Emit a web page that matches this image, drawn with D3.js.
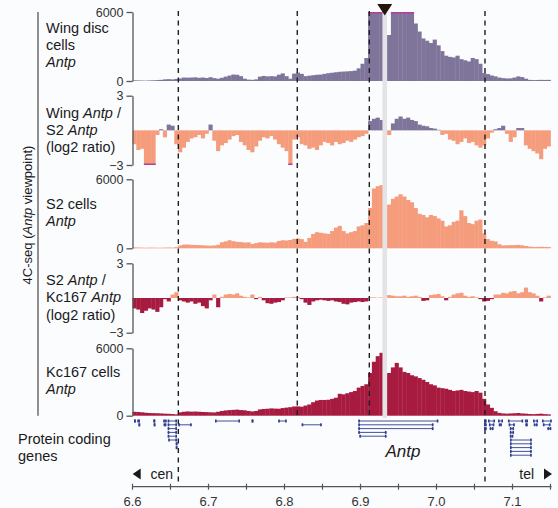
<!DOCTYPE html>
<html><head><meta charset="utf-8">
<script src="https://cdn.jsdelivr.net/npm/d3@7"></script>
<style>
html,body{margin:0;padding:0;background:#fbfcfe;}
text{font-family:"Liberation Sans",Arial,Helvetica,sans-serif;}
</style></head>
<body><svg id="c" width="558" height="508"></svg>
<script>
// ---- data (genomic position in Mb, bins of 5 kb starting at 6.600) ----
const binStart = 6.6, binSize = 0.005;
const wingDisc = [60,50,40,30,50,60,80,100,140,160,140,180,220,300,290,300,320,280,300,260,330,250,200,280,380,470,560,540,420,200,120,100,140,380,440,400,420,400,550,660,420,200,640,730,620,420,460,500,540,560,620,680,720,760,800,820,840,860,900,1100,1500,2000,6000,6000,6000,6000,0,4000,6000,6000,6000,6000,6000,6000,5000,4300,3700,3500,3300,3600,3100,2600,2200,2100,2050,2200,1900,1800,1700,2000,1900,1500,700,600,480,400,300,250,220,230,300,400,340,200,100,80,90,100,90,100];
const wingVsS2 = [-1.2,-1.7,-1.6,-3,-3,-3,-0.4,0.1,-0.6,0.5,0.4,-1.2,-1.9,-1.5,-1.0,-0.7,-0.6,-0.4,-0.7,-0.3,0.5,-0.9,-1.8,-1.3,-1.1,-0.8,-0.5,-0.4,-1.0,-1.3,-1.7,-1.9,-1.4,-0.9,-0.6,-0.7,-0.5,-0.8,-1.2,-1.5,-1.8,-3,-0.8,-0.6,-1.2,-1.3,-1.6,-1.5,-1.7,-1.3,-1.0,-1.1,-1.3,-1.0,-1.2,-1.1,-0.9,-1.0,-0.8,-0.6,-0.5,-0.3,0.8,1.0,1.1,0.9,0,-0.4,0.6,1.0,1.2,1.0,1.1,0.9,0.8,0.5,0.4,0.35,0.2,0.15,0.05,-0.4,-0.3,-0.8,-0.9,-1.2,-1.0,-0.7,-1.1,-1.0,-1.3,-1.5,-1.3,-0.7,-0.2,0.1,0.2,0.4,-0.3,-1.0,-0.6,0.2,0.2,-1.3,-1.6,-1.8,-2.0,-2.5,-1.6,-1.4];
const s2Cells = [80,70,60,50,60,60,50,50,60,70,60,100,250,320,330,300,290,280,260,240,230,250,300,520,600,700,620,560,540,500,520,380,450,520,500,480,520,500,640,700,680,720,820,860,800,560,900,1250,1400,1350,1300,1250,1500,1800,1950,1500,1300,1400,1500,1900,2000,2200,3500,5200,5400,5500,0,3800,4300,4500,4700,4500,4200,4000,3500,3000,2900,2700,2900,2800,2600,2400,1900,2000,2300,2400,3300,2800,2200,2100,2400,2500,1300,800,650,600,350,250,260,270,280,300,260,200,150,120,120,130,120,110];
const s2VsKc167 = [-0.9,-1.0,-1.3,-1.1,-0.9,-1.0,-1.2,-0.8,-0.1,-0.3,0.3,0.5,-0.2,-0.3,-0.4,-0.3,-0.5,-0.4,-0.7,-0.9,-0.2,0.3,-0.8,0.1,0.3,0.35,0.3,0.4,0.2,0.1,0.05,0.3,-0.1,0.1,-0.2,-0.45,-0.5,-0.4,-0.35,-0.2,0.05,0.05,0.1,0.1,-0.1,-0.4,-0.6,-0.3,-0.2,-0.15,-0.2,-0.25,-0.2,-0.3,-0.35,-0.5,-0.55,-0.4,-0.35,-0.3,-0.35,-0.3,0.05,0.05,0.03,0.05,0,0.25,0.2,0.15,0.15,0.2,0.1,0.15,0.2,0.1,-0.25,-0.2,0.25,0.3,0.35,0.15,-0.2,0.1,0.3,0.4,0.45,0.2,0.1,0.15,0.05,-0.1,-0.3,-0.25,-0.1,0.3,0.3,0.45,0.4,0.55,0.6,0.4,0.5,0.9,0.5,0.4,0.2,-0.3,0.05,0.2];
const kc167Cells = [350,330,300,260,240,230,220,200,180,170,150,120,300,350,380,360,370,350,330,320,300,290,350,420,470,500,520,540,500,480,420,380,420,560,600,620,650,630,620,680,720,760,820,830,800,900,1000,1200,1350,1400,1400,1420,1500,1600,1950,1900,2000,2100,2200,2500,2650,2800,3800,4800,5300,5600,0,3800,4300,4700,4300,3900,3800,3600,3500,3350,3200,3000,2800,2700,2500,2450,2400,2300,2200,2250,2300,2200,2150,2100,2200,2050,1500,1000,700,400,250,200,180,200,220,240,200,180,150,140,160,180,140,120];
const countTicks = [0, 6000];
const ratioTicks = [-3, 3];
const axisTicks = [6.6, 6.7, 6.8, 6.9, 7.0, 7.1];
const minorTicks = [6.65, 6.75, 6.85, 6.95, 7.05, 7.15];
const boundaries = [6.6603, 6.8168, 6.9116, 7.0638];
const outerBoundaries = [6.6603, 7.0638];
const viewpoint = 6.9319;
// genes: [start, end, row]
const genes = [
 [6.602,6.6042,0],[6.6063,6.6099,0],[6.608,6.6095,1],[6.6274,6.630,0],[6.628,6.6295,1],
 [6.6405,6.645,0],[6.641,6.6445,1],
 [6.6463,6.6585,0],[6.6463,6.6585,1],[6.6463,6.6585,2],[6.6463,6.6585,3],[6.6463,6.6585,4],[6.6470,6.6585,5],[6.657,6.6585,6],[6.657,6.6585,7],
 [6.6603,6.6779,1],[6.7086,6.7414,0],[6.7568,6.759,0],[6.7918,6.8029,0],[6.8226,6.849,1],
 [6.8971,7.0024,0],[6.8971,6.996,1],[6.8971,6.996,2],[6.8971,6.9342,3],[6.8985,6.9342,4],
 [7.0625,7.066,0],[7.0625,7.066,1],[7.0625,7.066,2],
 [7.0678,7.077,0],[7.0690,7.076,1],[7.0700,7.075,2],
 [7.081,7.0875,0],[7.082,7.086,1],
 [7.094,7.114,0],[7.095,7.103,1],[7.0965,7.102,2],[7.0965,7.102,3],[7.0965,7.101,4],
 [7.0967,7.1253,5],[7.0967,7.1253,6],[7.0967,7.1253,7],[7.0967,7.1253,8],[7.0967,7.1253,9],
 [7.1164,7.1204,0],[7.117,7.120,1],
 [7.127,7.1336,0],[7.128,7.133,1],
 [7.1388,7.1516,0],[7.140,7.150,1],[7.146,7.151,2]
];

// ---- layout ----
const svg = d3.select("#c");
const C = {purple:"#7f7499", salmon:"#f49c7c", crimson:"#a81b40", cap:"#b23fa0", gene:"#2e3d8e", axis:"#555"};
const x = d3.scaleLinear().domain([6.6, 7.15]).range([132.5, 550.5]);
const bins = wingDisc.map((_, i) => binStart + i * binSize);

const tracks = [
  {data: wingDisc, top: 12, bottom: 81, type: "count", pos: C.purple,
   label: [[["Wing disc",0]],[["cells",0]],[["Antp",1]]], base: 33},
  {data: wingVsS2, top: 95.7, bottom: 165, type: "ratio", pos: C.purple, neg: C.salmon,
   label: [[["Wing ",0],["Antp",1],[" /",0]],[["S2 ",0],["Antp",1]],[["(log2 ratio)",0]]], base: 117.8},
  {data: s2Cells, top: 179.3, bottom: 248.3, type: "count", pos: C.salmon,
   label: [[["S2 cells",0]],[["Antp",1]]], base: 208.5},
  {data: s2VsKc167, top: 263.3, bottom: 332.7, type: "ratio", pos: C.salmon, neg: C.crimson,
   label: [[["S2 ",0],["Antp",1],[" /",0]],[["Kc167 ",0],["Antp",1]],[["(log2 ratio)",0]]], base: 285.2},
  {data: kc167Cells, top: 348.3, bottom: 415.7, type: "count", pos: C.crimson,
   label: [[["Kc167 cells",0]],[["Antp",1]]], base: 376.8}
];

const gBars = svg.append("g");
const gOver = svg.append("g");

tracks.forEach(t => {
  const dom = t.type === "count" ? [0, 6000] : [-3, 3];
  const y = d3.scaleLinear().domain(dom).range([t.bottom, t.top]).clamp(true);
  const g = gBars.append("g");
  g.selectAll("rect").data(t.data).join("rect")
    .attr("x", (d, i) => x(bins[i]))
    .attr("width", (d, i) => x(bins[i] + binSize) - x(bins[i]) + 0.35)
    .attr("y", d => Math.min(y(0), y(d)))
    .attr("height", d => Math.abs(y(d) - y(0)))
    .attr("fill", d => d >= 0 ? t.pos : t.neg);
  // clipped caps
  const lim = t.type === "count" ? 6000 : 3;
  g.selectAll("rect.cap").data(t.data.map((d, i) => [d, i]).filter(p => Math.abs(p[0]) >= lim)).join("rect")
    .attr("class", "cap")
    .attr("x", p => x(bins[p[1]]))
    .attr("width", p => x(bins[p[1]] + binSize) - x(bins[p[1]]) + 0.35)
    .attr("y", p => p[0] > 0 ? y(lim) : y(-lim) - 1.5)
    .attr("height", 1.5)
    .attr("fill", C.cap);
  // bracket axis
  const ax = svg.append("g").attr("transform", "translate(132.5,0)");
  const axis = d3.axisLeft(y).tickValues(t.type === "count" ? countTicks : ratioTicks)
    .tickSize(6).tickPadding(3).tickSizeOuter(0).tickFormat(d3.format("d"));
  ax.call(axis);
  ax.select(".domain").attr("stroke", C.axis).attr("stroke-width", 1.3);
  ax.selectAll(".tick line").attr("stroke", C.axis).attr("stroke-width", 1.3);
  ax.selectAll(".tick text").attr("font-size", 12.5).attr("fill", "#333")
    .attr("font-family", "Liberation Sans, Arial, sans-serif");
  // label
  const lt = svg.append("text").attr("font-size", 14.5).attr("fill", "#1a1a1a");
  t.label.forEach((line, li) => {
    line.forEach((seg, si) => {
      const ts = lt.append("tspan").text(seg[0]).attr("font-style", seg[1] ? "italic" : "normal");
      if (si === 0) ts.attr("x", 46).attr("y", t.base + li * 17.2);
    });
  });
});

// viewpoint band + marker
gOver.append("rect").attr("x", x(viewpoint) - 2.3).attr("width", 4.6)
  .attr("y", 10).attr("height", 408).attr("fill", "#e4e4e7");
gOver.append("path")
  .attr("d", `M${x(viewpoint)-7.5},4 L${x(viewpoint)+7.5},4 L${x(viewpoint)},15.5 Z`)
  .attr("fill", "#24160f");

// dashed boundary lines
gOver.selectAll("line.b").data(boundaries).join("line")
  .attr("x1", d => x(d)).attr("x2", d => x(d))
  .attr("y1", 11).attr("y2", d => outerBoundaries.includes(d) ? 486 : 416)
  .attr("stroke", "#1e1e1e").attr("stroke-width", 1.4).attr("stroke-dasharray", "5,4.5");

// left group line and rotated title
svg.append("line").attr("x1", 38).attr("x2", 38).attr("y1", 12).attr("y2", 415.7)
  .attr("stroke", "#555").attr("stroke-width", 1.3);
const rt = svg.append("text").attr("transform", "translate(32,215) rotate(-90)")
  .attr("text-anchor", "middle").attr("font-size", 13).attr("fill", "#1a1a1a");
rt.append("tspan").text("4C-seq (");
rt.append("tspan").text("Antp").attr("font-style", "italic");
rt.append("tspan").text(" viewpoint)");

// gene track
const rowY = r => 421 + r * 3.8;
const gg = svg.append("g");
genes.forEach(gn => {
  const x1 = x(gn[0]), x2 = x(gn[1]), yy = rowY(gn[2]);
  gg.append("line").attr("x1", x1).attr("x2", Math.max(x2, x1 + 1)).attr("y1", yy).attr("y2", yy)
    .attr("stroke", C.gene).attr("stroke-width", 0.9);
  gg.append("rect").attr("x", x1).attr("y", yy - 1.5).attr("width", 1.6).attr("height", 3).attr("fill", C.gene);
  gg.append("rect").attr("x", Math.max(x2 - 1.6, x1)).attr("y", yy - 1.5).attr("width", 1.6).attr("height", 3).attr("fill", C.gene);
});
const pc = svg.append("text").attr("font-size", 14.5).attr("fill", "#1a1a1a");
pc.append("tspan").attr("x", 18).attr("y", 443.5).text("Protein coding");
pc.append("tspan").attr("x", 18).attr("y", 460.7).text("genes");
svg.append("text").attr("x", x(6.9558)).attr("y", 457).attr("text-anchor", "middle")
  .attr("font-size", 17).attr("font-style", "italic").attr("fill", "#1a1a1a").text("Antp");

// cen / tel
svg.append("path").attr("d", "M132.7,474 L140.7,468.5 L140.7,479.5 Z").attr("fill", "#1a1a1a");
svg.append("text").attr("x", 150.5).attr("y", 478.5).attr("font-size", 14).attr("fill", "#1a1a1a").text("cen");
svg.append("path").attr("d", "M552,474 L544,468.5 L544,479.5 Z").attr("fill", "#1a1a1a");
svg.append("text").attr("x", 519.3).attr("y", 478.5).attr("font-size", 14).attr("fill", "#1a1a1a").text("tel");

// bottom axis
const gx = svg.append("g").attr("transform", "translate(0,486.7)");
gx.append("line").attr("x1", x(6.6)).attr("x2", x(7.15) + 1).attr("stroke", "#555").attr("stroke-width", 1.2);
gx.selectAll("line.t").data(axisTicks.concat(minorTicks)).join("line")
  .attr("x1", d => x(d)).attr("x2", d => x(d)).attr("y1", -3).attr("y2", 3)
  .attr("stroke", "#555").attr("stroke-width", 1.2);
gx.selectAll("text").data(axisTicks).join("text")
  .attr("x", d => x(d)).attr("y", 19).attr("text-anchor", "middle")
  .attr("font-size", 13).attr("fill", "#333").text(d3.format(".1f"));
</script></body></html>
